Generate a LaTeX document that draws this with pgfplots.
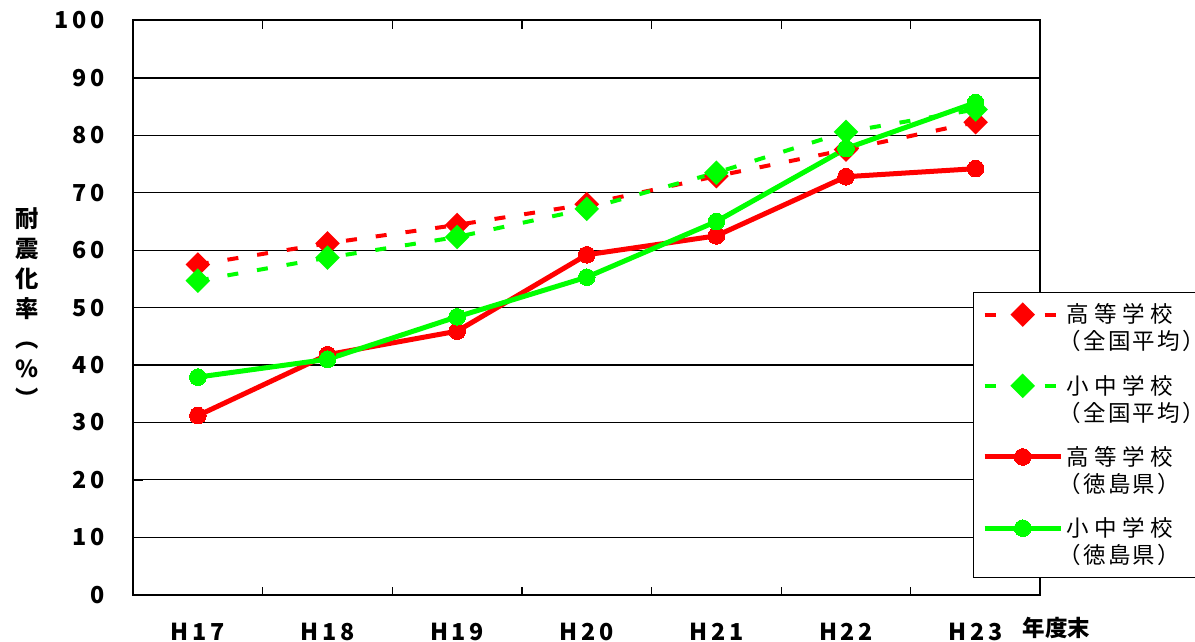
\documentclass[border=0pt]{standalone}
\usepackage{pgfplots}
\pgfplotsset{compat=1.18}
\usepackage{fontspec}
\setmainfont{Noto Sans CJK JP}
\definecolor{xred}{RGB}{255,0,0}
\definecolor{xgreen}{RGB}{0,255,0}
% two-line legend text: wider first line, paren line pulled left
\newcommand{\legtext}[2]{{\addfontfeatures{LetterSpace=24}#1}\\\hspace*{-0.35em}#2}

\begin{document}
\begin{tikzpicture}
\begin{axis}[
    name=ax,
    scale only axis,
    width=544.2pt, height=344.4pt,
    xmin=0.5, xmax=7.5,
    ymin=0, ymax=100,
    xtick={1,...,7},
    xticklabels={H17,H18,H19,H20,H21,H22,H23},
    minor xtick={1.5,2.5,...,6.5},
    ytick={0,10,...,100},
    tick align=inside,
    major x tick style={draw=none},
    major tick length=6pt,
    minor tick length=4.8pt,
    tick style={black, line width=0.8pt},
    ymajorgrids=true,
    major grid style={black, line width=0.7pt},
    axis line style={black, line width=1.2pt},
    /pgf/number format/assume math mode=true,
    ticklabel style={font=\fontsize{14}{16}\selectfont\bfseries\addfontfeatures{LetterSpace=16}},
    yticklabel style={anchor=east, inner sep=0pt, xshift=-16.8pt},
    xticklabel style={anchor=north, inner sep=0pt, yshift=-16.8pt},
    xlabel={年度末},
    xlabel style={at={(axis description cs:1,0)}, anchor=west, inner sep=0pt,
        xshift=-10.8pt, yshift=-20pt, font=\fontsize{13.5}{16}\selectfont\bfseries},
    ylabel={耐\\震\\化\\率\\︵\\\%\\︶},
    ylabel style={at={(axis description cs:0,0.5)}, anchor=center, rotate=-90,
        xshift=-63.6pt, align=center, font=\fontsize{14}{18}\selectfont\bfseries},
    legend style={at={(axis description cs:0.926,0.528)}, anchor=north west,
        draw=black, line width=0.7pt, fill=white,
        font=\fontsize{13.5}{16.2}\selectfont\addfontfeatures{LetterSpace=10},
        cells={anchor=west, align=left, inner xsep=-1.5pt},
        row sep=9.6pt, inner xsep=5pt, inner ysep=5pt},
    legend image code/.code={
        \draw[mark repeat=2, mark phase=2, #1]
            plot coordinates {(0pt,8.1pt) (22.8pt,8.1pt) (45.6pt,8.1pt)};
    },
]

% 高等学校（全国平均）
\addplot[xred, line width=2.4pt, dash pattern=on 6.6pt off 11.4pt,
    mark=square*, mark size=4pt, mark options={solid, rotate=45, fill=xred, draw=xred}]
    coordinates {(1,57.5) (2,61.2) (3,64.4) (4,68.0) (5,72.9) (6,77.5) (7,82.3)};
\addlegendentry{\legtext{高等学校}{（全国平均）}}

% 小中学校（全国平均）
\addplot[xgreen, line width=2.4pt, dash pattern=on 6.6pt off 11.4pt,
    mark=square*, mark size=4pt, mark options={solid, rotate=45, fill=xgreen, draw=xgreen}]
    coordinates {(1,54.7) (2,58.7) (3,62.3) (4,67.2) (5,73.5) (6,80.6) (7,84.5)};
\addlegendentry{\legtext{小中学校}{（全国平均）}}

% 高等学校（徳島県）
\addplot[xred, line width=3pt,
    mark=*, mark size=5pt, mark options={solid, fill=xred, draw=xred, line width=0pt}]
    coordinates {(1,31.2) (2,41.8) (3,45.9) (4,59.2) (5,62.5) (6,72.8) (7,74.2)};
\addlegendentry{\legtext{高等学校}{（徳島県）}}

% 小中学校（徳島県）
\addplot[xgreen, line width=3pt,
    mark=*, mark size=5pt, mark options={solid, fill=xgreen, draw=xgreen, line width=0pt}]
    coordinates {(1,37.9) (2,41.0) (3,48.4) (4,55.3) (5,65.0) (6,77.7) (7,85.7)};
\addlegendentry{\legtext{小中学校}{（徳島県）}}

\end{axis}
\pgfresetboundingbox
\path[use as bounding box] ([xshift=-79.8pt,yshift=-27.9pt]ax.south west)
    rectangle ([xshift=92.7pt,yshift=12.3pt]ax.north east);
\end{tikzpicture}
\end{document}
